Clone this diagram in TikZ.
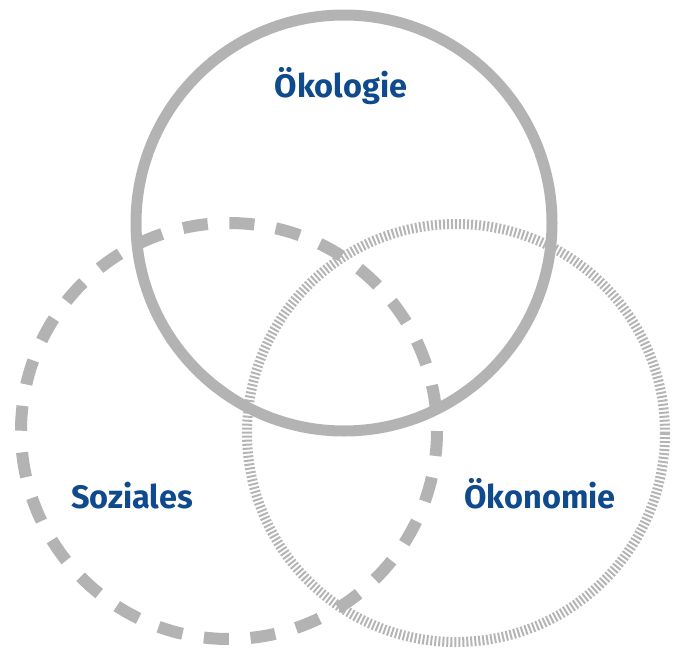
\documentclass[tikz,border=0pt]{standalone}
\usepackage{fontspec}
\setmainfont{Fira Sans}
\definecolor{ringgray}{HTML}{B3B3B3}
\definecolor{stripegray}{HTML}{B5B5B5}
\definecolor{labelblue}{HTML}{0E4A8C}
\begin{document}
\begin{tikzpicture}[x=1pt,y=-1pt,
  ring/.style={draw=ringgray,line width=11pt},
  dashring/.style={draw=ringgray,line width=12pt,dash pattern=on 25pt off 21.7pt},
  stripering/.style={draw=stripegray,line width=10pt,dash pattern=on 2pt off 2pt},
  lbl/.style={text=labelblue,font=\fontsize{32.5}{38}\selectfont\bfseries,anchor=base,inner sep=0pt}]
\useasboundingbox (0,0) rectangle (677,648);
\coordinate (cOek) at (344,223);
\coordinate (cSoz) at (229,431);
\coordinate (cOkn) at (456,433);
\draw[stripering] (cOkn) circle[radius=209];
\draw[dashring] (cSoz) circle[radius=208];
\draw[ring] (cOek) circle[radius=208];
\node[lbl] (tOek) at (341,97) {Ökologie};
\node[lbl] (tSoz) at (132,508) {Soziales};
\node[lbl] (tOkn) at (540,508) {Ökonomie};
\end{tikzpicture}
\end{document}
